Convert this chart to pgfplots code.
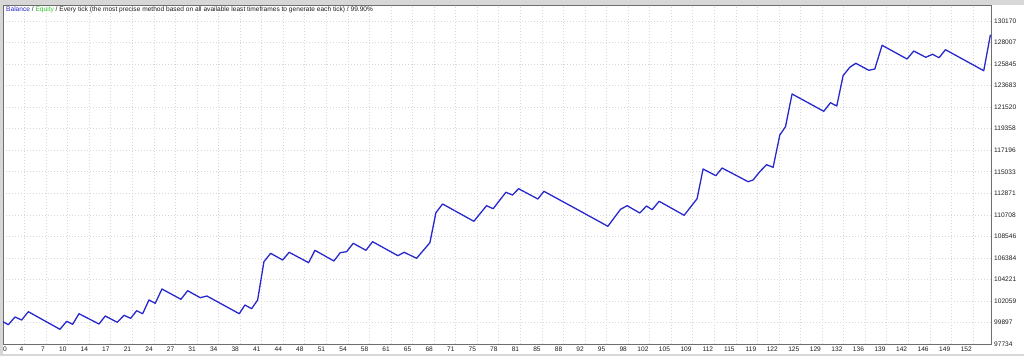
\documentclass[border=0pt]{standalone}
\usepackage{fontspec}
\setmainfont{Liberation Sans}
\usepackage{pgfplots}
\pgfplotsset{compat=1.18}
\definecolor{bal}{RGB}{40,40,205}
\definecolor{eqg}{RGB}{50,200,50}
\definecolor{gridc}{RGB}{215,215,215}
\definecolor{framec}{RGB}{110,110,110}
\definecolor{txt}{RGB}{30,30,30}
\definecolor{winc}{RGB}{215,215,215}
\begin{document}
\begin{tikzpicture}
\fill[white] (0pt,0pt) rectangle (1024pt,356pt);
\fill[winc] (0pt,351pt) rectangle (1024pt,356pt);
\fill[winc] (0pt,0pt) rectangle (2.5pt,356pt);
\fill[winc] (0pt,0pt) rectangle (1024pt,2.5pt);
\begin{axis}[
  at={(3pt,12pt)}, anchor=south west,
  width=988pt, height=339pt, scale only axis,
  xmin=0, xmax=154.9, ymin=97734, ymax=131783,
  scaled x ticks=false, scaled y ticks=false,
  axis line style={framec, line width=0.8pt},
  tick style={draw=none},
  grid=major,
  major grid style={gridc, line width=0.6pt, dash pattern=on 1pt off 2pt},
  font=\fontsize{6.6}{8}\selectfont,
  tick label style={text=txt},
  xtick={3.379,6.759,10.138,13.517,16.897,20.276,23.655,27.035,30.414,33.793,37.173,40.552,43.931,47.311,50.690,54.069,57.449,60.828,64.207,67.587,70.966,74.345,77.725,81.104,84.483,87.863,91.242,94.621,98.001,101.380,104.759,108.139,111.518,114.897,118.277,121.656,125.035,128.415,131.794,135.173,138.553,141.932,145.311,148.691,152.070},
  xticklabels={4,7,10,14,17,21,24,27,31,34,38,41,44,48,51,54,58,61,65,68,71,75,78,81,85,88,92,95,98,102,105,109,112,115,119,122,125,129,132,136,139,142,146,149,152},
  xticklabel style={anchor=north east, inner sep=0pt, yshift=-3pt, xshift=-1pt},
  extra x ticks={0},
  extra x tick labels={0},
  extra x tick style={grid=none, xticklabel style={anchor=north west, xshift=1pt}},
  ytick={97734,99897,102059,104221,106384,108546,110708,112871,115033,117196,119358,121520,123683,125845,128007,130170},
  yticklabels={97734,99897,102059,104221,106384,108546,110708,112871,115033,117196,119358,121520,123683,125845,128007,130170},
  yticklabel pos=right,
  yticklabel style={anchor=west, inner sep=0pt, xshift=3pt},
  clip=true,
]
\addplot[bal, line width=1.3pt, line join=round] coordinates {
(0,99974) (0.83,99672) (1.88,100446) (2.93,100145) (3.97,100978)
(8.93,99210) (9.98,100014) (10.92,99713) (11.91,100777) (15.05,99743)
(16.03,100546) (17.92,99914) (18.97,100617) (20.02,100315) (20.96,101079)
(21.90,100777) (22.88,102153) (23.87,101822) (24.92,103258) (27.90,102224)
(28.95,103087) (30.92,102384) (31.97,102555) (37.04,100777) (37.93,101651)
(38.98,101280) (39.92,102153) (40.91,106000) (41.96,106844) (43.84,106171)
(44.87,106944) (47.92,105900) (48.90,107145) (51.88,106071) (52.87,106904)
(53.87,107005) (54.91,107848) (56.90,107145) (57.95,108009) (61.91,106603)
(62.90,106944) (64.84,106342) (66.93,107909) (67.87,110922) (68.92,111796)
(73.82,110058) (75.81,111625) (76.85,111324) (78.84,112971) (79.89,112700)
(80.83,113332) (83.86,112298) (84.80,113071) (89.81,111324) (94.83,109556)
(96.82,111263) (97.85,111625) (99.84,110892) (100.89,111595) (101.77,111223)
(102.87,112067) (106.79,110661) (108.82,112328) (109.76,115311) (111.76,114638)
(112.74,115411) (116.82,114035) (117.60,114206) (118.65,115040) (119.70,115743)
(120.74,115482) (121.79,118726) (122.68,119560) (123.71,122844) (128.68,121106)
(129.73,121970) (130.72,121639) (131.71,124682) (132.76,125526) (133.70,125928)
(135.74,125224) (136.68,125355) (137.82,127735) (141.74,126359) (142.79,127163)
(144.67,126530) (145.72,126831) (146.76,126490) (147.76,127293) (153.76,125184)
(154.81,128800)
};
\node[anchor=north west, inner sep=0pt, font=\fontsize{6.6}{8}\selectfont, text=txt]
  at (rel axis cs:0,1) [xshift=3pt, yshift=-1.5pt]
  {\textcolor{bal}{Balance} / \textcolor{eqg}{Equity} / Every tick (the most precise method based on all available least timeframes to generate each tick) / 99.90\%};
\end{axis}
\end{tikzpicture}
\end{document}
